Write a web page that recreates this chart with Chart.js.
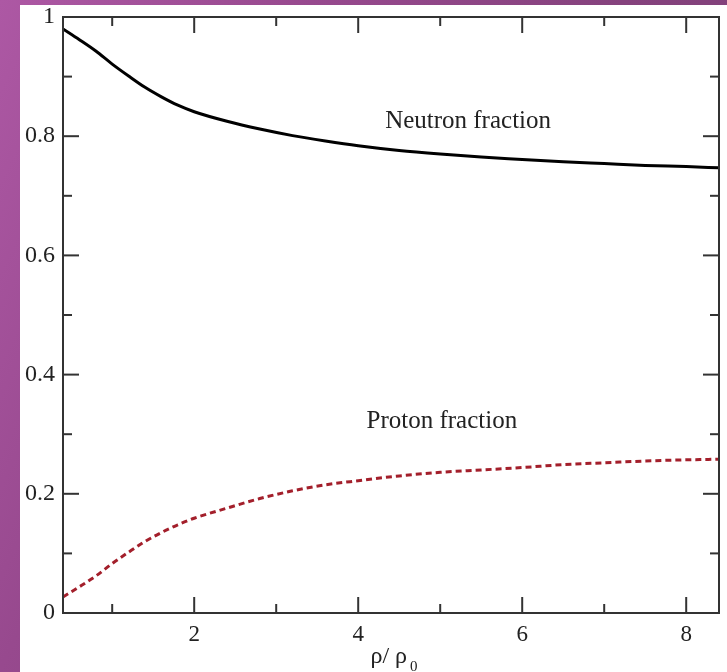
<!DOCTYPE html>
<html>
<head>
<meta charset="utf-8">
<script src="https://cdn.jsdelivr.net/npm/chart.js@4.4.1/dist/chart.umd.min.js"></script>
<style>
  html, body { margin: 0; padding: 0; }
  body {
    width: 727px; height: 672px; overflow: hidden; position: relative;
    background: linear-gradient(115deg, #ad58a4 0%, #97498e 30%, #85427d 60%, #7b3d74 100%);
  }
  #wrap { position: absolute; left: 20px; top: 5px; width: 707px; height: 667px; background: #fff; }
</style>
</head>
<body>
<div id="wrap"><canvas id="chart" width="707" height="667"></canvas></div>
<script>
// rho / rho_0
const densities = [0.4, 0.6, 0.8, 1.0, 1.2, 1.4, 1.6, 1.8, 2.0, 2.4, 2.8, 3.2, 3.6, 4.0, 4.5, 5.0, 5.5, 6.0, 6.5, 7.0, 7.5, 8.0, 8.4];
const neutronFraction = [0.980, 0.962, 0.943, 0.921, 0.901, 0.882, 0.866, 0.852, 0.841, 0.825, 0.812, 0.801, 0.792, 0.784, 0.776, 0.770, 0.765, 0.761, 0.757, 0.754, 0.751, 0.749, 0.747];
const protonFraction = [0.027, 0.044, 0.062, 0.083, 0.102, 0.120, 0.135, 0.148, 0.159, 0.176, 0.192, 0.205, 0.215, 0.222, 0.230, 0.236, 0.240, 0.244, 0.249, 0.252, 0.255, 0.257, 0.258];

const xTicks = [2, 4, 6, 8];
const xMinorTicks = [1, 3, 5, 7];
const yTicks = [0, 0.2, 0.4, 0.6, 0.8, 1];
const yMinorTicks = [0.1, 0.3, 0.5, 0.7, 0.9];

const SERIF = "'Liberation Serif', 'DejaVu Serif', serif";
const INK = '#222';

const toPoints = (ys) => densities.map((x, i) => ({ x, y: ys[i] }));

// inward ticks on all four sides + box + curve labels + axis title
const gracePlot = {
  id: 'gracePlot',
  afterDraw(chart) {
    const { ctx, chartArea: a, scales: { x, y } } = chart;
    ctx.save();
    ctx.strokeStyle = '#333';
    ctx.lineWidth = 2;
    ctx.strokeRect(a.left, a.top, a.right - a.left, a.bottom - a.top);

    const tick = (x1, y1, x2, y2) => { ctx.beginPath(); ctx.moveTo(x1, y1); ctx.lineTo(x2, y2); ctx.stroke(); };
    xTicks.forEach(v => { const px = x.getPixelForValue(v); tick(px, a.bottom, px, a.bottom - 16); tick(px, a.top, px, a.top + 16); });
    xMinorTicks.forEach(v => { const px = x.getPixelForValue(v); tick(px, a.bottom, px, a.bottom - 9); tick(px, a.top, px, a.top + 9); });
    yTicks.forEach(v => { const py = y.getPixelForValue(v); tick(a.left, py, a.left + 16, py); tick(a.right, py, a.right - 16, py); });
    yMinorTicks.forEach(v => { const py = y.getPixelForValue(v); tick(a.left, py, a.left + 9, py); tick(a.right, py, a.right - 9, py); });

    // curve labels
    ctx.fillStyle = INK;
    ctx.font = `25px ${SERIF}`;
    ctx.textAlign = 'center';
    ctx.textBaseline = 'alphabetic';
    ctx.fillText('Neutron fraction', x.getPixelForValue(5.34), y.getPixelForValue(0.814));
    ctx.fillText('Proton fraction', x.getPixelForValue(5.02), y.getPixelForValue(0.310));

    // axis title  ρ/ ρ0
    ctx.textAlign = 'left';
    const main = 'ρ/ ρ';
    ctx.font = `24px ${SERIF}`;
    const wMain = ctx.measureText(main).width;
    ctx.font = `15px ${SERIF}`;
    const wSub = ctx.measureText('0').width;
    const start = (a.left + a.right) / 2 - (wMain + 3 + wSub) / 2 + 3;
    ctx.font = `24px ${SERIF}`;
    ctx.fillText(main, start, a.bottom + 50);
    ctx.font = `15px ${SERIF}`;
    ctx.fillText('0', start + wMain + 3, a.bottom + 58);
    ctx.restore();
  }
};

new Chart(document.getElementById('chart'), {
  type: 'scatter',
  data: {
    datasets: [
      {
        label: 'Neutron fraction',
        data: toPoints(neutronFraction),
        showLine: true,
        borderColor: '#000',
        borderWidth: 3,
        pointRadius: 0,
        cubicInterpolationMode: 'monotone',
      },
      {
        label: 'Proton fraction',
        data: toPoints(protonFraction),
        showLine: true,
        borderColor: '#a31f2b',
        borderWidth: 3,
        borderDash: [6, 4],
        pointRadius: 0,
        cubicInterpolationMode: 'monotone',
      }
    ]
  },
  options: {
    responsive: false,
    devicePixelRatio: 1,
    animation: false,
    layout: { padding: { top: 12, right: 8, left: 0, bottom: 0 } },
    plugins: { legend: { display: false }, tooltip: { enabled: false } },
    scales: {
      x: {
        type: 'linear',
        min: 0.4,
        max: 8.4,
        grid: { display: false, drawTicks: false },
        border: { display: false },
        afterBuildTicks: s => { s.ticks = xTicks.map(v => ({ value: v })); },
        afterFit: s => { s.height = 59; s.paddingLeft = 0; s.paddingRight = 0; },
        ticks: { color: INK, padding: 8, font: { family: SERIF, size: 23 }, maxRotation: 0 }
      },
      y: {
        min: 0,
        max: 1,
        grid: { display: false, drawTicks: false },
        border: { display: false },
        afterBuildTicks: s => { s.ticks = yTicks.map(v => ({ value: v })); },
        afterFit: s => { s.width = 43; s.paddingTop = 0; s.paddingBottom = 0; },
        ticks: { color: INK, padding: 8, font: { family: SERIF, size: 24 }, callback: v => String(v) }
      }
    }
  },
  plugins: [gracePlot]
});
</script>
</body>
</html>
